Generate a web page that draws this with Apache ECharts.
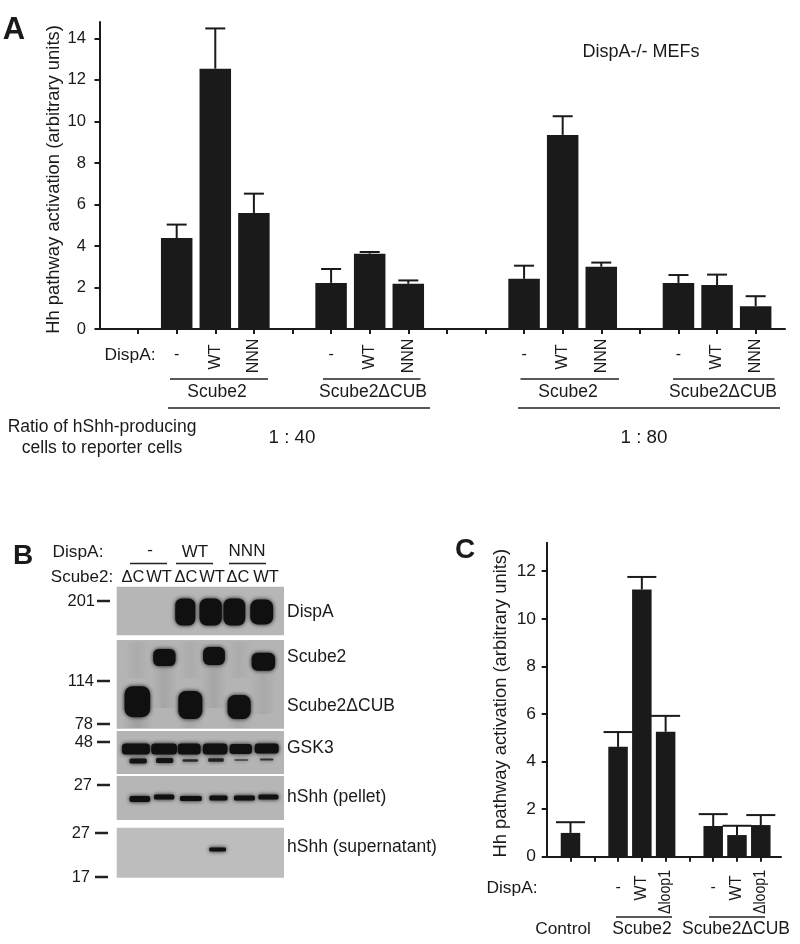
<!DOCTYPE html>
<html><head><meta charset="utf-8">
<style>html,body{margin:0;padding:0;background:#fff}#c{width:800px;height:944px}</style>
<script src="https://cdn.jsdelivr.net/npm/echarts@6/dist/echarts.min.js"></script>
</head><body><div id="c"></div>
<script>
// ---------- Panel A data
const lanesA   = [2,3,4, 6,7,8, 11,12,13, 15,16,17];
const valuesA  = [4.38,12.54,5.59, 2.22,3.63,2.18, 2.42,9.35,3.0, 2.22,2.12,1.1];
const errTopA  = [5.03,14.48,6.52, 2.89,3.71,2.34, 3.05,10.25,3.2, 2.6,2.62,1.58];
const dispaA   = ['-','WT','NNN','-','WT','NNN','-','WT','NNN','-','WT','NNN'];
const ticksYA  = [0,2,4,6,8,10,12,14];
const ticksXA  = [1,2,3,4,5,6,7,8,9,10,11,12,13,14,15,16,17];
// ---------- Panel C data
const lanesC   = [1, 3,4,5, 7,8,9];
const valuesC  = [1.0, 4.62,11.23,5.25, 1.29,0.91,1.33];
const errTopC  = [1.45, 5.24,11.76,5.92, 1.79,1.30,1.75];
const dispaC   = ['-','WT','\u0394loop1','-','WT','\u0394loop1'];
const ticksYC  = [0,2,4,6,8,10,12];
const ticksXC  = [1,2,3,4,5,6,7,8,9];
const yName    = 'Hh pathway activation (arbitrary units)';
// ---------- Panel B blot: [lane, gel position, lane width, gel height, darkness]
const blotDispA = [[2.46,32,.72,27,1],[3.37,32,.8,27,1],[4.22,32,.78,27,1],[5.2,32,.82,25,1]];
const blotScube = [[1.71,77.5,.8,17,1],[3.49,76,.78,18,1],[5.26,81.7,.84,18,1],[.74,121.7,.92,31,1],[2.64,125,.86,28,1],[4.39,127,.83,24,1]];
const blotGsk3  = [[.69,169,1.0,11,1],[1.7,169,.92,11,1],[2.6,169,.82,11,1],[3.53,169,.88,11,1],[4.45,169,.8,10,1],[5.38,168.5,.86,10,1],
                   [.77,181,.62,5,.95],[1.72,180.5,.62,5,.95],[2.64,180.5,.56,2.5,.8],[3.56,180,.56,3.5,.85],[4.47,180,.5,1.5,.7],[5.38,179.5,.48,2,.75]];
const blotPellet= [[.83,219,.74,6,1],[1.7,217,.73,5,1],[2.66,218.5,.78,5,1],[3.65,218,.65,5,1],[4.58,218,.75,5,1],[5.44,217,.72,5,1]];
const blotSuper = [[3.62,269.5,.6,4,1]];
const blotSmear = [[1.71,105,.95,46,.09],[3.49,105,.95,46,.09],[5.26,112,.95,44,.07],[.74,80,.9,36,.05],[2.64,80,.9,36,.05],[4.39,80,.9,36,.05],[.74,143,1.1,10,.12],[2.64,143,1.0,10,.08],[4.39,143,1.0,10,.07]];
// [gel top, gel bottom]
const blotPanels= [[6.7,55.3,'#b6b6b6'],[60,148.7,'#b4b4b4'],[151,194,'#b4b4b4'],[196,240,'#b6b6b6'],[247.7,297.7,'#bdbdbd']];
const mwMarkers = [['201',601,95,97],['114',681,94,97],['78',724,93,97],['48',742,93,97],['27',785,92,97],['27',833,90,95],['17',877,90,95]];
const blotNames = [['DispA',612],['Scube2',657],['Scube2\u0394CUB',706],['GSK3',748],['hShh (pellet)',797],['hShh (supernatant)',847]];
const laneNames = [['\u0394C',133],['WT',159],['\u0394C',186],['WT',212],['\u0394C',238],['WT',266]];

const FONT = '"Liberation Sans", Arial, sans-serif';
const INK = '#1a1a1a';

function errorSeries(xi, yi, lanes, vals, tops, capW){
  return {type:'custom', xAxisIndex:xi, yAxisIndex:yi, z:3, clip:false,
    data: lanes.map((l,i)=>[l,vals[i],tops[i]]),
    renderItem(p,api){
      const a=api.coord([api.value(0),api.value(1)]), b=api.coord([api.value(0),api.value(2)]);
      const st={stroke:INK,lineWidth:2,fill:null};
      return {type:'group',children:[
        {type:'line',shape:{x1:a[0],y1:a[1],x2:b[0],y2:b[1]},style:st},
        {type:'line',shape:{x1:a[0]-capW/2,y1:b[1],x2:a[0]+capW/2,y2:b[1]},style:st}]};
    }};
}
function valueX(idx, max, ticks){
  return {gridIndex:idx,type:'value',min:0,max:max,splitLine:{show:false},
    axisLine:{show:true,onZero:false,lineStyle:{color:INK,width:2}},
    axisTick:{show:true,length:5,customValues:ticks,lineStyle:{color:INK,width:2}},
    axisLabel:{show:false}};
}
function valueY(idx,max,ticks,gap,pad,lblSize,margin){
  return {gridIndex:idx,type:'value',min:0,max:max,splitLine:{show:false},
    name:yName,nameLocation:'middle',nameGap:gap,nameRotate:90,nameMoveOverlap:false,
    nameTextStyle:{fontFamily:FONT,fontSize:18.4,color:INK,padding:pad},
    axisLine:{show:true,onZero:false,lineStyle:{color:INK,width:2}},
    axisTick:{show:true,length:5,customValues:ticks,lineStyle:{color:INK,width:2}},
    axisLabel:{customValues:ticks,fontFamily:FONT,fontSize:lblSize,color:INK,margin:margin}};
}
const chart = echarts.init(document.getElementById('c'),null,{renderer:'canvas'});
chart.setOption({
  animation:false, backgroundColor:'#fff',
  grid:[
    {left:99.5,top:22,width:685.5,height:307},
    {left:546.7,top:542.7,width:234.3,height:314},
    {left:116.7,top:580,width:167.3,height:300,show:false}
  ],
  xAxis:[valueX(0,17.76,ticksXA), valueX(1,9.85,ticksXC),
    {gridIndex:2,type:'value',min:0,max:6,show:false}],
  yAxis:[valueY(0,14.79,ticksYA,37,[0,8,0,0],16.6,13.5), valueY(1,13.2,ticksYC,36.5,[0,7,0,0],17.4,10.7),
    {gridIndex:2,type:'value',min:0,max:300,inverse:true,show:false}],
  series:[
    {type:'bar',xAxisIndex:0,yAxisIndex:0,barWidth:31.5,z:2,itemStyle:{color:INK},data:lanesA.map((l,i)=>[l,valuesA[i]])},
    errorSeries(0,0,lanesA,valuesA,errTopA,20),
    {type:'bar',xAxisIndex:1,yAxisIndex:1,barWidth:19.5,z:2,itemStyle:{color:INK},data:lanesC.map((l,i)=>[l,valuesC[i]])},
    errorSeries(1,1,lanesC,valuesC,errTopC,29),
    {type:'custom',xAxisIndex:2,yAxisIndex:2,z:1,clip:false,data:blotPanels,
      encode:{y:[0,1]},
      renderItem(p,api){
        const a=api.coord([0,api.value(0)]),b=api.coord([6,api.value(1)]);
        return {type:'rect',shape:{x:a[0],y:a[1],width:b[0]-a[0],height:b[1]-a[1]},style:{fill:blotPanels[p.dataIndex][2]}};
      }},
    {type:'custom',xAxisIndex:2,yAxisIndex:2,z:2,clip:false,
      data:[].concat(blotSmear,blotDispA,blotScube,blotGsk3,blotPellet,blotSuper),
      renderItem(p,api){
        const c=api.coord([api.value(0),api.value(1)]),s=api.size([api.value(2),api.value(3)]),d=api.value(4);
        const shape={x:c[0]-s[0]/2,y:c[1]-s[1]/2,width:s[0],height:s[1]};
        if(d<.5){
          // faint lane smear: fades out toward the lane's sides
          const col=a=>'rgba(16,16,16,'+a+')';
          return {type:'rect',shape,style:{fill:{type:'linear',x:0,y:0,x2:1,y2:0,colorStops:[{offset:0,color:col(0)},{offset:.5,color:col(d)},{offset:1,color:col(0)}]}}};
        }
        shape.r=Math.min(s[0],s[1])*.32;
        return {type:'rect',shape,style:{fill:'rgba(16,16,16,'+d+')',shadowBlur:4,shadowColor:'rgba(16,16,16,'+d+')'}};
      }}
  ]
});

// ---------- annotations
const o_ink='#222';
const els=[];
function T(text,x,y,o){o=o||{};els.push({type:'text',x,y,rotation:o.rot||0,scaleX:o.sx||1,silent:true,z:10,
  style:{text,fill:o.color||INK,font:(o.bold?'bold ':'')+(o.size||17.5)+'px '+FONT,
    align:o.align||'center',verticalAlign:'middle'}});}
function L(x1,x2,y,w){els.push({type:'line',silent:true,z:10,shape:{x1,y1:y,x2,y2:y},style:{stroke:o_ink,lineWidth:w||1.5}});}
const pxA=v=>chart.convertToPixel({xAxisIndex:0},v);
const pxC=v=>chart.convertToPixel({xAxisIndex:1},v);

T('A',14,30,{bold:true,size:31});
T('B',23,556,{bold:true,size:28});
T('C',465,550,{bold:true,size:28});
T('DispA-/- MEFs',641,52,{size:18});

// A labels
T('DispA:',130,355,{size:17.4});
lanesA.forEach((l,i)=>{const x=pxA(l),s=dispaA[i];
  if(s==='-')T(s,x,355,{size:16}); else T(s,x,s==='WT'?357:356,{size:16,rot:Math.PI/2});});
L(170,268,379);L(323,420.5,379);L(520.5,619,379);L(673,774.5,379);
L(168,430,408);L(518,780,408);
T('Scube2',217,392);T('Scube2\u0394CUB',373,392);
T('Scube2',568,392);T('Scube2\u0394CUB',723,392);
T('Ratio of hShh-producing',102,427);T('cells to reporter cells',102,448);
T('1 : 40',292,438,{size:18.8});T('1 : 80',644,438,{size:18.8});

// B labels
T('DispA:',78,552,{size:17.3});T('Scube2:',82,577,{size:17});
T('-',150,550,{size:17});T('WT',195,552,{size:17});T('NNN',247,551,{size:17});
L(130,167,563.5);L(176,213,563.5);L(229,266,563.5);
laneNames.forEach(n=>T(n[0],n[1],577,{size:16.5}));
mwMarkers.forEach(m=>{T(m[0],m[2],m[1],{size:16.5,align:'right'});L(m[3],m[3]+13,m[1],2.5);});
blotNames.forEach(n=>T(n[0],287,n[1],{size:17.5,align:'left'}));

// C labels
T('DispA:',512,888,{size:17.4});
lanesC.slice(1).forEach((l,i)=>{const x=pxC(l),s=dispaC[i];
  if(s==='-')T(s,x,888,{size:16}); else if(s==='WT')T(s,x,888,{size:16,rot:Math.PI/2}); else T(s,x,892,{size:16.5,sx:.86,rot:Math.PI/2});});
L(616,672,917);L(709,765,917);
T('Control',563,929,{size:17.3});T('Scube2',642,929);T('Scube2\u0394CUB',736,929);

chart.setOption({graphic:{elements:els}});
</script></body></html>
